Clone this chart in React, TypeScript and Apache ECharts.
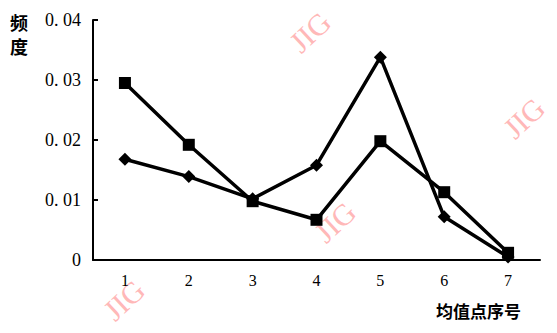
import React, { useEffect, useRef } from "react";
import * as echarts from "echarts";

const categories = ["1", "2", "3", "4", "5", "6", "7"];
const squareSeries = [0.0295, 0.0192, 0.0098, 0.0067, 0.0198, 0.0113, 0.0012];
const diamondSeries = [0.0168, 0.0139, 0.0102, 0.0158, 0.0338, 0.0072, 0.0005];
const yTicks = [0, 0.01, 0.02, 0.03, 0.04];

const SERIF = "'Liberation Serif', 'DejaVu Serif', serif";
const CJK = "'Noto Sans CJK SC', sans-serif";
const WM = "#ffb8b8";

export default function App() {
  const ref = useRef<HTMLDivElement>(null);
  useEffect(() => {
    if (!ref.current) return;
    const chart = echarts.init(ref.current, undefined, { renderer: "svg" });
    const wm = (x: number, y: number) => ({
      type: "text",
      x,
      y,
      rotation: 0.75,
      z: 0,
      style: {
        text: "JIG",
        fill: WM,
        font: `30px ${SERIF}`,
        align: "center",
        verticalAlign: "middle",
      },
    });
    chart.setOption({
      animation: false,
      backgroundColor: "#fff",
      grid: { left: 93, right: 17, top: 20, bottom: 73, containLabel: false },
      xAxis: {
        type: "category",
        data: categories,
        boundaryGap: true,
        axisLine: { lineStyle: { color: "#000", width: 2 } },
        axisTick: { inside: true, length: 8, lineStyle: { color: "#000", width: 2 } },
        axisLabel: { color: "#000", fontFamily: SERIF, fontSize: 16, margin: 12 },
        splitLine: { show: false },
      },
      yAxis: {
        type: "value",
        min: yTicks[0],
        max: yTicks[yTicks.length - 1],
        interval: 0.01,
        axisLine: { show: true, lineStyle: { color: "#000", width: 2 } },
        axisTick: { show: true, inside: true, length: 5, lineStyle: { color: "#000", width: 2 } },
        axisLabel: {
          color: "#000",
          fontFamily: SERIF,
          fontSize: 18,
          margin: 12,
          formatter: (v: number) => (v === 0 ? "0" : v.toFixed(2).replace(".", ". ")),
        },
        splitLine: { show: false },
      },
      graphic: [
        wm(310, 32),
        wm(524, 118),
        wm(335, 222),
        wm(124, 300),
        {
          type: "text",
          left: 10,
          top: 10,
          z: 10,
          style: {
            text: "频\n度",
            fill: "#000",
            font: `bold 18px ${CJK}`,
            lineHeight: 24,
          },
        },
        {
          type: "text",
          left: 436,
          top: 302,
          z: 10,
          style: {
            text: "均值点序号",
            fill: "#000",
            font: `bold 17px ${CJK}`,
          },
        },
      ],
      series: [
        {
          type: "line",
          data: squareSeries,
          symbol: "rect",
          symbolSize: 12,
          lineStyle: { color: "#000", width: 3.5 },
          itemStyle: { color: "#000" },
          z: 5,
        },
        {
          type: "line",
          data: diamondSeries,
          symbol: "diamond",
          symbolSize: 13,
          lineStyle: { color: "#000", width: 3.5 },
          itemStyle: { color: "#000" },
          z: 5,
        },
      ],
    });
    return () => chart.dispose();
  }, []);
  return <div ref={ref} style={{ width: 557, height: 333, position: "absolute", left: 0, top: 0 }} />;
}
